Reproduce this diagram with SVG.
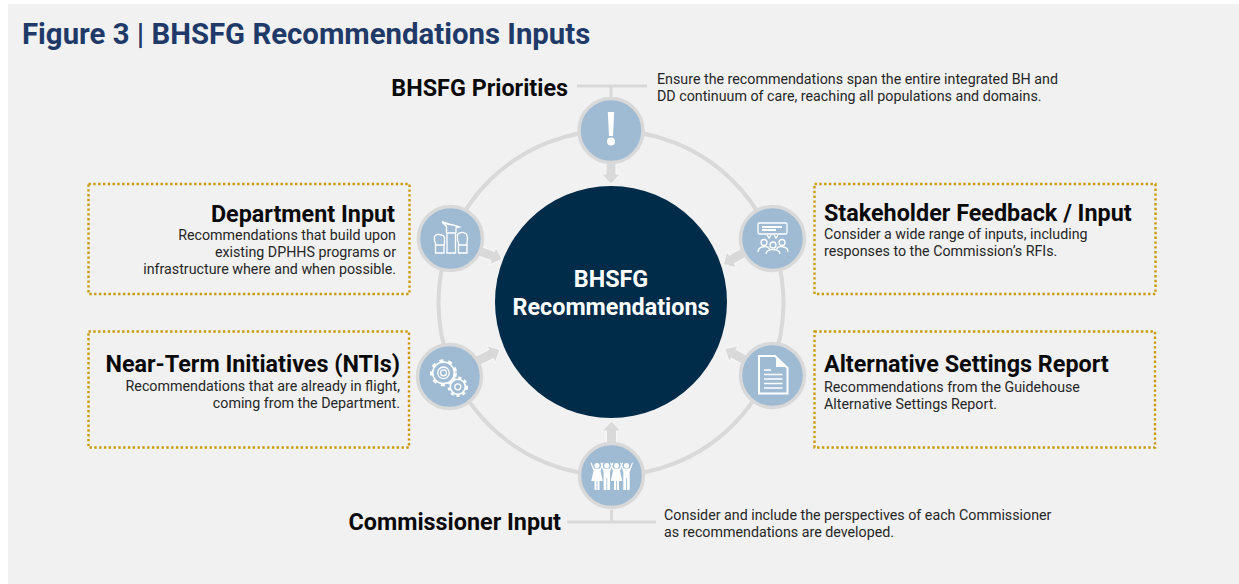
<svg xmlns="http://www.w3.org/2000/svg" width="1239" height="584" viewBox="0 0 1239 584">
<style>
text{font-family:Roboto,"Liberation Sans",sans-serif}
.h{font-size:23.350px;font-weight:700;fill:#0a0a0a}
.b{font-size:14.260px;fill:#262626}
.e{text-anchor:end}
.box{fill:none;stroke:#c99a0a;stroke-width:2.4;stroke-dasharray:2.4 2.4}
.ring{fill:none;stroke:#d9d9d9;stroke-width:4}
.bar{fill:none;stroke:#d9d9d9;stroke-width:3}
.node{fill:#9fbbd4;stroke:#d9d9d9;stroke-width:3.5}
.arrow{fill:#d9d9d9;stroke:#f8f8f8;stroke-width:1}
.ic{fill:none;stroke:#fff;stroke-width:1.3}
.icb{fill:none;stroke:#fff;stroke-width:2}
.icf{fill:#fff}
</style>
<defs>
<path id="arr" d="M-4-5H13V-9.500L23 0L13 9.500V5H-4Z"/>
<g id="fig-d"><circle cx="0" cy="465.500" r="2.600"/><path d="M-5.500 462.500L-3 468.500H3L5.500 462.500L6.500 463L3.500 471L5.800 481H2.500V490H.4V481H-.4V490H-2.500V481H-5.800L-3.500 471L-6.500 463Z"/></g>
<g id="fig-t"><circle cx="0" cy="465.500" r="2.600"/><path d="M-5.500 462.500L-3 468.500H3L5.500 462.500L6.500 463L3.200 472V490H.4V478H-.4V490H-3.200V472L-6.500 463Z"/></g>
</defs>
<rect x="8" y="4" width="1231" height="580" fill="#f1f1f1"/>
<text x="22" y="44" font-size="29.350" font-weight="700" fill="#1f3a68">Figure 3 | BHSFG Recommendations Inputs</text>
<g id="connectors">
<circle class="ring" cx="611" cy="303" r="172.500"/>
<path class="bar" d="M577 86H647M611 86V100"/>
<path class="bar" d="M567 522H656M611.500 510V522"/>
<use class="arrow" href="#arr" transform="translate(611 161) rotate(90)"/>
<use class="arrow" href="#arr" transform="translate(611.500 444) rotate(-90)"/>
<use class="arrow" href="#arr" transform="translate(480.500 251.500) rotate(20)"/>
<use class="arrow" href="#arr" transform="translate(743 253) rotate(150)"/>
<use class="arrow" href="#arr" transform="translate(479.500 360) rotate(-27)"/>
<use class="arrow" href="#arr" transform="translate(745 360) rotate(209)"/>
</g>
<g id="center">
<circle cx="611" cy="302" r="116" fill="#002b49"/>
<text x="611" y="287" font-size="23.350" font-weight="700" fill="#fff" text-anchor="middle">BHSFG</text>
<text x="611" y="315" font-size="23.350" font-weight="700" fill="#fff" text-anchor="middle">Recommendations</text>
</g>
<g id="node-priorities">
<circle class="node" cx="611" cy="130.500" r="32"/>
<path class="icf" d="M607.800 112H614.200L613 136H609Z"/>
<circle class="icf" cx="611" cy="141.500" r="4"/>
<text class="h" x="568" y="96" text-anchor="end">BHSFG Priorities</text>
<text class="b" x="657" y="84">Ensure the recommendations span the entire integrated BH and</text>
<text class="b" x="657" y="101">DD continuum of care, reaching all populations and domains.</text>
</g>
<g id="node-department">
<circle class="node" cx="450.500" cy="238.500" r="32"/>
<path class="ic" d="M447 233V253H455.500V233ZM446.500 233V226.500L442 222L447 224L453 225L459.500 227L456 228V233M442 221.500L460 227.500"/>
<path class="ic" d="M435.500 245V253H444V245ZM435.500 245V243L434.500 241V236.500Q436 234 439 234.500L443.500 235.500L444.500 238V243L444 245"/>
<path class="ic" d="M458.500 245V253H467V245ZM458.500 245V243L457.500 240V234.500Q460 232 463 232.500L466.500 234L467.500 238L467 243V245"/>
<text class="h" x="395" y="222" text-anchor="end">Department Input</text>
<rect class="box" x="88.500" y="184" width="321" height="110"/>
<text class="b e" x="396" y="240">Recommendations that build upon</text>
<text class="b e" x="396" y="257">existing DPHHS programs or</text>
<text class="b e" x="396" y="274">infrastructure where and when possible.</text>
</g>
<g id="node-stakeholder">
<circle class="node" cx="772.500" cy="238.500" r="32"/>
<rect class="ic" x="758" y="223" width="29" height="11" rx="1.500"/>
<path class="icb" d="M762 227H782M762 230H776" stroke-width="1.500"/>
<path class="ic" d="M767 235L769 238L771 235M774 235L776 238L778 235"/>
<circle class="ic" cx="764" cy="242.500" r="3"/><circle class="ic" cx="773" cy="245" r="3"/><circle class="ic" cx="782" cy="242.500" r="3"/>
<path class="ic" d="M758 252C758 246 768 245 769.500 249M776.500 249C778 245 788 246 788 252M766 254C766 248 780 248 780 254"/>
<text class="h" x="824" y="221">Stakeholder Feedback / Input</text>
<rect class="box" x="814.500" y="184" width="341" height="110"/>
<text class="b" x="824" y="239">Consider a wide range of inputs, including</text>
<text class="b" x="824" y="256">responses to the Commission’s RFIs.</text>
</g>
<g id="node-ntis">
<circle class="node" cx="449.500" cy="376.500" r="32"/>
<circle fill="none" stroke="#fff" stroke-width="1.500" cx="443.500" cy="372.800" r="10.800"/>
<circle fill="none" stroke="#fff" stroke-width="3" stroke-dasharray="4 4.700" cx="443.500" cy="372.800" r="12"/>
<circle class="ic" cx="443.500" cy="372.800" r="5.800"/><circle class="ic" cx="443.500" cy="372.800" r="3"/>
<circle fill="none" stroke="#fff" stroke-width="1.500" cx="457.800" cy="386.800" r="7.500"/>
<circle fill="none" stroke="#fff" stroke-width="2.800" stroke-dasharray="3 2.970" cx="457.800" cy="386.800" r="8.800"/>
<circle class="ic" cx="457.800" cy="386.800" r="3"/>
<text class="h" x="400" y="372" text-anchor="end">Near-Term Initiatives (NTIs)</text>
<rect class="box" x="88.500" y="331.500" width="320.500" height="116"/>
<text class="b e" x="400" y="391">Recommendations that are already in flight,</text>
<text class="b e" x="400" y="408">coming from the Department.</text>
</g>
<g id="node-alternative">
<circle class="node" cx="772.500" cy="375.500" r="32"/>
<path class="icb" d="M759 356H775L787.500 368V393.500H759Z"/>
<path class="icf" d="M776 357L786 367H776Z"/>
<path class="ic" d="M764 370H771M764 374.500H782.500M764 379H782.500M764 383.500H782.500M764 388H782.500" stroke-width="1.600"/>
<text class="h" x="824" y="372">Alternative Settings Report</text>
<rect class="box" x="814.500" y="331.500" width="340.500" height="116"/>
<text class="b" x="824" y="392">Recommendations from the Guidehouse</text>
<text class="b" x="824" y="409">Alternative Settings Report.</text>
</g>
<g id="node-commissioner">
<circle class="node" cx="611.500" cy="475.500" r="32"/>
<g class="icf">
<use href="#fig-d" x="597"/><use href="#fig-t" x="606.800"/><use href="#fig-d" x="616.500"/><use href="#fig-t" x="626.500"/>
</g>
<text class="h" x="561" y="530" text-anchor="end">Commissioner Input</text>
<text class="b" x="664" y="520">Consider and include the perspectives of each Commissioner</text>
<text class="b" x="664" y="537">as recommendations are developed.</text>
</g>
</svg>
